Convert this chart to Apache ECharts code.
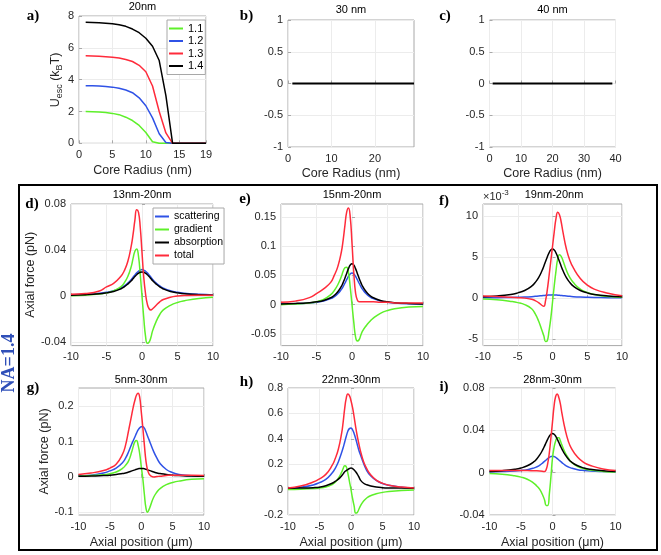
<!DOCTYPE html>
<html><head><meta charset="utf-8">
<script src="https://cdn.jsdelivr.net/npm/echarts@6/dist/echarts.min.js"></script>
<style>html,body{margin:0;padding:0;background:#fff}#c{width:661px;height:555px}</style>
</head><body><div id="c"></div>
<script>
// ---------- panel a: escape potential vs core radius ----------
const radiusA = [1,2,3,4,5,6,7,8,9,10,11,12,13,14,15,16,17,18,19];
const u11 = [2.0,1.99,1.97,1.93,1.88,1.8,1.64,1.43,1.12,0.68,0.1,0,0,0,0,0,0,0,0];
const u12 = [3.62,3.61,3.6,3.57,3.53,3.46,3.35,3.18,2.86,2.36,1.6,0.6,0.05,0,0,0,0,0,0];
const u13 = [5.5,5.49,5.47,5.44,5.41,5.36,5.27,5.14,4.9,4.5,3.6,2.0,0.65,0,0,0,0,0,0];
const u14 = [7.6,7.59,7.57,7.55,7.51,7.45,7.35,7.18,6.95,6.6,6.1,5.2,3.0,0,0,0,0,0,0];
const legendA = ['1.1','1.2','1.3','1.4'];
const ticksA = [0,5,10,15,19];
// ---------- panels b, c ----------
const radiusB = [1,2,3,4,5,6,7,8,9,10,11,12,13,14,15,16,17,18,19,20,21,22,23,24,25,26,27,28,29];
const uB = [0,0,0,0,0,0,0,0,0,0,0,0,0,0,0,0,0,0,0,0,0,0,0,0,0,0,0,0,0];
const radiusC = [1,2,3,4,5,6,7,8,9,10,11,12,13,14,15,16,17,18,19,20,21,22,23,24,25,26,27,28,29,30,31,32,33,34,35,36,37,38,39];
const uC = [0,0,0,0,0,0,0,0,0,0,0,0,0,0,0,0,0,0,0,0,0,0,0,0,0,0,0,0,0,0,0,0,0,0,0,0,0,0,0];
const ticksB = [0,10,20];
const ticksC = [0,10,20,30,40];
const ticksBCy = [-1,-0.5,0,0.5,1];
// ---------- panels d-i: axial force vs axial position ----------
const legendF = ['scattering','gradient','absorption','total'];
const pos = [-10,-8,-6,-5,-4,-3,-2.5,-2,-1.5,-1.25,-1,-0.75,-0.5,-0.25,0,0.25,0.5,0.75,1,1.25,1.5,2,2.5,3,4,5,6,8,10];
const ticksPos = [-10,-5,0,5,10];
// d) 13nm-20nm
const dScat = [0.001,0.0015,0.0025,0.0033,0.0046,0.0069,0.0088,0.0113,0.0145,0.0165,0.0184,0.0202,0.0216,0.0226,0.023,0.0226,0.0216,0.0202,0.0184,0.0165,0.0145,0.0113,0.0088,0.0069,0.0046,0.0033,0.0025,0.0015,0.001];
const dGrad = [0.0003,0.0008,0.0018,0.0028,0.0045,0.008,0.0115,0.017,0.026,0.033,0.039,0.041,0.035,0.019,0,-0.019,-0.035,-0.041,-0.040,-0.036,-0.030,-0.022,-0.016,-0.012,-0.008,-0.0055,-0.004,-0.002,-0.001];
const dAbs = [0.0008,0.0012,0.002,0.0028,0.004,0.0062,0.008,0.0104,0.0134,0.0152,0.017,0.0186,0.0198,0.0207,0.021,0.0207,0.0198,0.0186,0.017,0.0152,0.0134,0.0104,0.008,0.0062,0.004,0.0028,0.002,0.0012,0.0008];
const dTot = [0.0015,0.0022,0.0045,0.008,0.011,0.017,0.022,0.030,0.044,0.054,0.066,0.075,0.073,0.060,0.038,0.016,0.002,-0.007,-0.011,-0.012,-0.011,-0.008,-0.005,-0.003,-0.001,0.0,0.0005,0.0008,0.0008];
const ticksD = [-0.04,0,0.04,0.08];
// e) 15nm-20nm
const eScat = [0.0011,0.0017,0.003,0.0042,0.0063,0.0102,0.0136,0.0186,0.026,0.031,0.0366,0.0426,0.0482,0.0524,0.054,0.0524,0.0482,0.0426,0.0366,0.031,0.026,0.0186,0.0136,0.0102,0.0063,0.0042,0.003,0.0017,0.0011];
const eGrad = [0,0.001,0.003,0.005,0.009,0.017,0.024,0.034,0.048,0.057,0.063,0.064,0.055,0.03,0,-0.03,-0.055,-0.062,-0.060,-0.052,-0.045,-0.036,-0.029,-0.023,-0.015,-0.010,-0.007,-0.004,-0.003];
const eAbs = [0.0013,0.002,0.0034,0.0048,0.0072,0.0118,0.0158,0.0219,0.0312,0.0377,0.045,0.0534,0.0615,0.0677,0.07,0.0677,0.0615,0.0534,0.045,0.0377,0.0312,0.0219,0.0158,0.0118,0.0072,0.0048,0.0034,0.002,0.0013];
const eTot = [0.004,0.006,0.012,0.019,0.027,0.038,0.050,0.065,0.09,0.11,0.135,0.158,0.165,0.15,0.105,0.055,0.02,0.008,0.005,0.005,0.005,0.005,0.005,0.005,0.004,0.004,0.003,0.003,0.003];
const ticksE = [-0.05,0,0.05,0.1,0.15];
// f) 19nm-20nm (values in units of 1e-3 pN)
const fScat = [0.05,0.06,0.08,0.1,0.13,0.18,0.22,0.26,0.3,0.32,0.34,0.36,0.38,0.39,0.4,0.39,0.38,0.36,0.34,0.32,0.3,0.26,0.22,0.18,0.13,0.1,0.08,0.06,0.05];
const fGrad = [-0.1,-0.2,-0.4,-0.55,-0.8,-1.3,-1.9,-2.8,-4.0,-4.6,-5.3,-5.2,-4.0,-2.5,-0.5,1.5,3.3,4.8,5.3,5.1,4.6,3.4,2.5,1.9,1.1,0.7,0.45,0.2,0.1];
const fAbs = [0.17,0.26,0.45,0.64,0.93,1.46,1.9,2.51,3.37,3.9,4.47,5.03,5.53,5.88,6.0,5.88,5.53,5.03,4.47,3.9,3.37,2.51,1.9,1.46,0.93,0.64,0.45,0.26,0.17];
const fTot = [0.25,0.2,0.1,0.05,0.0,-0.15,-0.3,-0.55,-0.9,-1.0,-0.3,1.0,2.7,4.5,6.3,8.1,9.7,10.5,10.2,9.3,8.1,6.0,4.6,3.7,2.4,1.6,1.1,0.6,0.3];
const ticksF = [-5,0,5,10];
// g) 5nm-30nm
const gScat = [0.003,0.005,0.011,0.017,0.025,0.04,0.053,0.072,0.094,0.104,0.114,0.124,0.133,0.139,0.142,0.142,0.138,0.128,0.116,0.105,0.093,0.071,0.053,0.038,0.021,0.012,0.007,0.003,0.002];
const gGrad = [0.002,0.004,0.006,0.009,0.014,0.024,0.033,0.046,0.072,0.088,0.1,0.103,0.09,0.066,0.03,-0.005,-0.05,-0.088,-0.1,-0.092,-0.08,-0.057,-0.043,-0.033,-0.022,-0.016,-0.012,-0.007,-0.005];
const gAbs = [0.0017,0.0025,0.004,0.005,0.007,0.0095,0.011,0.014,0.017,0.0185,0.02,0.0215,0.023,0.0237,0.024,0.0237,0.023,0.0215,0.02,0.0185,0.017,0.014,0.011,0.0095,0.007,0.005,0.004,0.0025,0.0017];
const gTot = [0.007,0.011,0.018,0.025,0.036,0.064,0.09,0.133,0.178,0.2,0.218,0.232,0.237,0.226,0.185,0.14,0.09,0.045,0.02,0.008,0.003,0.0,0.001,0.002,0.004,0.005,0.005,0.005,0.004];
const ticksG = [-0.1,0,0.1,0.2];
// h) 22nm-30nm
const hScat = [0.01,0.018,0.037,0.055,0.08,0.13,0.168,0.22,0.29,0.33,0.375,0.42,0.46,0.48,0.485,0.47,0.44,0.4,0.355,0.31,0.275,0.205,0.15,0.115,0.072,0.048,0.034,0.019,0.012];
const hGrad = [0.0,0.003,0.008,0.012,0.02,0.04,0.058,0.09,0.135,0.165,0.188,0.18,0.13,0.065,0.0,-0.07,-0.13,-0.185,-0.18,-0.155,-0.128,-0.09,-0.066,-0.05,-0.033,-0.022,-0.015,-0.007,-0.003];
const hAbs = [0.011,0.012,0.015,0.019,0.03,0.05,0.065,0.082,0.108,0.124,0.14,0.15,0.158,0.166,0.17,0.166,0.155,0.14,0.122,0.1,0.075,0.05,0.038,0.03,0.02,0.015,0.013,0.012,0.011];
const hTot = [0.013,0.028,0.06,0.085,0.12,0.19,0.245,0.32,0.44,0.53,0.64,0.72,0.753,0.74,0.70,0.645,0.57,0.49,0.42,0.36,0.305,0.22,0.165,0.125,0.075,0.05,0.035,0.02,0.013];
const ticksH = [-0.2,0,0.2,0.4,0.6,0.8];
// i) 28nm-30nm
const iScat = [0.0007,0.001,0.0015,0.002,0.0028,0.0043,0.0055,0.0072,0.0095,0.0108,0.012,0.0133,0.0145,0.0152,0.0155,0.0152,0.0145,0.0133,0.012,0.0108,0.0095,0.0072,0.0055,0.0043,0.0028,0.002,0.0015,0.001,0.0007];
const iGrad = [-0.0008,-0.0015,-0.003,-0.0042,-0.0062,-0.0098,-0.0125,-0.016,-0.022,-0.026,-0.031,-0.031,-0.02,-0.004,0.014,0.024,0.03,0.033,0.033,0.03,0.026,0.019,0.014,0.0098,0.0058,0.0037,0.0025,0.0012,0.0006];
const iAbs = [0.0012,0.0019,0.0032,0.0044,0.0065,0.0101,0.013,0.017,0.0222,0.0253,0.0286,0.0317,0.0345,0.0363,0.037,0.0363,0.0345,0.0317,0.0286,0.0253,0.0222,0.017,0.013,0.0101,0.0065,0.0044,0.0032,0.0019,0.0012];
const iTot = [0.002,0.002,0.002,0.002,0.002,0.0018,0.0017,0.0015,0.0012,0.001,0.003,0.009,0.019,0.033,0.048,0.063,0.072,0.0744,0.071,0.065,0.056,0.041,0.03,0.023,0.0145,0.0095,0.0068,0.0035,0.002];
const ticksI = [-0.04,0,0.04,0.08];

// ---------- rendering ----------
const FONT = 'Liberation Sans, Arial, sans-serif';
const SERIF = 'Liberation Serif, Times New Roman, serif';
const TXT = '#262626';
const COL = {scattering:'#2f52e6', gradient:'#5ef02a', absorption:'#000000', total:'#ff2b3b'};
const COLA = {'1.1':'#5ef02a','1.2':'#2f52e6','1.3':'#ff2b3b','1.4':'#000000'};

const grids = [
  {left:79, top:16, width:127, height:127.3},
  {left:288, top:20, width:126, height:127},
  {left:489.5, top:20, width:126, height:127},
  {left:71, top:204, width:142, height:141.6},
  {left:281, top:204, width:142, height:141.6},
  {left:483, top:204, width:139, height:141.6},
  {left:78.5, top:388, width:125.5, height:127},
  {left:288, top:388, width:126, height:127},
  {left:489.5, top:388, width:126, height:127}
].map(g => Object.assign({show:true, borderColor:'#a8a8a8', borderWidth:1, containLabel:false}, g));

function axisBase(idx, min, max, ticks) {
  return {
    gridIndex: idx, type:'value', min, max,
    axisLine:{show:false},
    axisTick:{show:true, inside:true, length:3, lineStyle:{color:'#a8a8a8'}, customValues: ticks},
    axisLabel:{show:true, color:TXT, fontSize:11, fontFamily:FONT, margin:5, customValues: ticks,
      formatter: v => String(Math.round(v*1000)/1000)},
    splitLine:{show:true, lineStyle:{color:'#ececec', width:1}, customValues: ticks},
    nameTextStyle:{color:TXT, fontSize:12.5, fontFamily:FONT}
  };
}
function xAx(idx, min, max, ticks, name, gap) {
  const a = axisBase(idx, min, max, ticks);
  a.position = 'bottom';
  a.axisLabel.margin = 6;
  if (name) { a.name = name; a.nameLocation = 'middle'; a.nameGap = gap; }
  return a;
}
function yAx(idx, min, max, ticks, name, gap) {
  const a = axisBase(idx, min, max, ticks);
  a.position = 'left';
  if (name) { a.name = name; a.nameLocation = 'middle'; a.nameGap = gap; }
  return a;
}

const xAxes = [
  xAx(0, 0, 19, ticksA, 'Core Radius (nm)', 21),
  xAx(1, 0, 29, ticksB, 'Core Radius (nm)', 20),
  xAx(2, 0, 40, ticksC, 'Core Radius (nm)', 20),
  xAx(3, -10, 10, ticksPos),
  xAx(4, -10, 10, ticksPos),
  xAx(5, -10, 10, ticksPos),
  xAx(6, -10, 10, ticksPos, 'Axial position (μm)', 21),
  xAx(7, -10, 10, ticksPos, 'Axial position (μm)', 21),
  xAx(8, -10, 10, ticksPos, 'Axial position (μm)', 21)
];
const yAxes = [
  yAx(0, 0, 8, [0,2,4,6,8]),
  yAx(1, -1, 1, ticksBCy),
  yAx(2, -1, 1, ticksBCy),
  yAx(3, -0.043, 0.08, ticksD, 'Axial force (pN)', 28),
  yAx(4, -0.07, 0.172, ticksE),
  yAx(5, -5.8, 11.5, ticksF),
  yAx(6, -0.108, 0.252, ticksG, 'Axial force (pN)', 23),
  yAx(7, -0.2, 0.8, ticksH),
  yAx(8, -0.04, 0.08, ticksI)
];

function line(name, idx, xs, ys, color, smooth, width) {
  return {type:'line', name, xAxisIndex:idx, yAxisIndex:idx,
    data: xs.map((x,i)=>[x, ys[i]]), symbol:'none', showSymbol:false,
    smooth: smooth, lineStyle:{color, width: width||1.5}, itemStyle:{color},
    animation:false, silent:true};
}
const series = [
  line('1.1', 0, radiusA, u11, COLA['1.1'], false),
  line('1.2', 0, radiusA, u12, COLA['1.2'], false),
  line('1.3', 0, radiusA, u13, COLA['1.3'], false),
  line('1.4', 0, radiusA, u14, COLA['1.4'], false),
  line('b', 1, radiusB, uB, '#000', false, 2),
  line('c', 2, radiusC, uC, '#000', false, 2)
];
const force = [
  [dScat,dGrad,dAbs,dTot],[eScat,eGrad,eAbs,eTot],[fScat,fGrad,fAbs,fTot],
  [gScat,gGrad,gAbs,gTot],[hScat,hGrad,hAbs,hTot],[iScat,iGrad,iAbs,iTot]
];
force.forEach((set, k) => {
  set.forEach((ys, j) => {
    series.push(line(legendF[j], k+3, pos, ys, COL[legendF[j]], 0.5));
  });
});

// text measuring for composed sub/superscript labels
const mctx = document.createElement('canvas').getContext('2d');
function tw(t, font) { mctx.font = font; return mctx.measureText(t).width; }

function txt(x, y, text, font, opts) {
  return Object.assign({type:'text', x, y, silent:true,
    style:Object.assign({text, font, fill:'#000', align:'center', verticalAlign:'middle'}, opts||{})});
}
// composed label: parts = [[text, isSub]], drawn along local x; sub shifted by dy (local down)
function composed(cx, cy, parts, bigFont, smallFont, subDy, rotation) {
  let total = 0;
  const widths = parts.map(p => { const w = tw(p[0], p[1] ? smallFont : bigFont); total += w; return w; });
  let x = -total/2;
  const children = parts.map((p, i) => {
    const c = {type:'text', x, y: p[1] ? subDy : 0, silent:true,
      style:{text:p[0], font: p[1] ? smallFont : bigFont, fill:TXT, align:'left', verticalAlign:'middle'}};
    x += widths[i];
    return c;
  });
  return {type:'group', x:cx, y:cy, rotation: rotation||0, children};
}

const titleFont = '11px ' + FONT;
const labFont = 'bold 15px ' + SERIF;
const supBig = '11px ' + FONT, supSmall = '8px ' + FONT;
const w10 = tw('×10', supBig);
const graphic = [
  {type:'rect', shape:{x:19, y:185, width:638, height:365}, style:{fill:'none', stroke:'#000', lineWidth:2}, silent:true},
  Object.assign(txt(9, 363, 'NA=1.4', 'bold 18px ' + SERIF, {fill:'#2f4fb8'}), {rotation: Math.PI/2}),
  txt(33, 16, 'a)', labFont), txt(246.5, 16, 'b)', labFont), txt(445, 16, 'c)', labFont),
  txt(32, 204, 'd)', labFont), txt(245, 199, 'e)', labFont), txt(444, 201, 'f)', labFont),
  txt(33, 388, 'g)', labFont), txt(246.5, 382, 'h)', labFont), txt(444, 387, 'i)', labFont),
  txt(142.5, 6.5, '20nm', titleFont), txt(351, 10, '30 nm', titleFont), txt(552.5, 10, '40 nm', titleFont),
  txt(142, 194.5, '13nm-20nm', titleFont), txt(352, 194.5, '15nm-20nm', titleFont), txt(554, 195, '19nm-20nm', titleFont),
  txt(141, 380, '5nm-30nm', titleFont), txt(351, 380, '22nm-30nm', titleFont), txt(552.5, 380, '28nm-30nm', titleFont),
  // y-axis label of panel a: U_esc (k_B T)
  composed(56, 80, [['U',false],['esc',true],[' (k',false],['B',true],['T)',false]],
    '12.5px ' + FONT, '9px ' + FONT, 3.5, Math.PI/2),
  // ×10^-3 of panel f
  txt(483, 196.5, '×10', supBig, {align:'left', fill:TXT}),
  txt(483 + w10, 192.5, '-3', supSmall, {align:'left', fill:TXT})
];

const legBase = {orient:'vertical', icon:'rect', itemWidth:14, itemHeight:2, selectedMode:false,
  borderColor:'#a8a8a8', borderWidth:1, backgroundColor:'#fff',
  textStyle:{color:'#000', fontFamily:FONT}};
const legend = [
  Object.assign({}, legBase, {data:legendA, left:167, top:20, itemGap:1.5, padding:[3,2,3,2],
    textStyle:{color:'#000', fontFamily:FONT, fontSize:11}}),
  Object.assign({}, legBase, {data:legendF, left:153, top:208, itemGap:2, padding:[3,1,3,2],
    textStyle:{color:'#000', fontFamily:FONT, fontSize:10.5}})
];

const chart = echarts.init(document.getElementById('c'), null, {renderer:'canvas'});
chart.setOption({animation:false, backgroundColor:'#fff', grid:grids, xAxis:xAxes, yAxis:yAxes,
  series, legend, graphic});
</script></body></html>
